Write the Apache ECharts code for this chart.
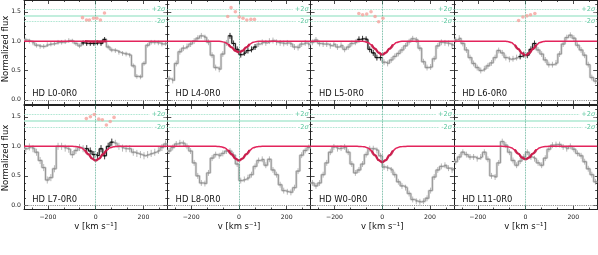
<!DOCTYPE html>
<html><head><meta charset="utf-8">
<script src="https://cdn.jsdelivr.net/npm/echarts@6/dist/echarts.min.js"></script>
<style>html,body{margin:0;padding:0;background:#fff}#c{width:598px;height:255px}</style>
</head><body><div id="c"></div>
<script>
// ---------- data ----------
const panelNames = ['HD L0-0R0','HD L4-0R0','HD L5-0R0','HD L6-0R0','HD L7-0R0','HD L8-0R0','HD W0-0R0','HD L11-0R0'];
const vEdges = [-300,-285,-270,-255,-240,-225,-210,-195,-180,-165,-150,-135,-120,-105,-90,-75,-60,-45,-30,-15,0,15,30,45,60,75,90,105,120,135,150,165,180,195,210,225,240,255,270,285,300];

const fluxL0 = [1.02,1.0,0.97,0.93,0.91,0.91,0.94,0.95,0.96,0.98,0.98,0.99,1.01,1.0,0.96,0.92,0.97,0.96,0.96,0.96,0.97,0.96,1.03,0.9,0.85,0.84,0.81,0.79,0.78,0.76,0.58,0.40,0.39,0.62,0.93,0.98,0.98,0.97,0.95,0.96];
const fluxL4 = [0.36,0.33,0.62,0.82,0.88,0.91,0.95,1.0,1.05,1.09,1.06,0.98,0.76,0.55,0.52,0.78,0.97,1.09,0.96,0.86,0.77,0.80,0.84,0.86,0.90,0.95,0.98,0.97,1.0,1.01,0.98,0.97,0.96,0.97,0.95,0.9,0.89,0.95,0.97,0.94];
const fluxL5 = [0.98,1.02,0.96,0.95,0.95,0.92,0.95,0.9,0.93,0.86,0.9,0.96,0.98,1.03,1.04,1.03,0.86,0.8,0.72,0.72,0.64,0.62,0.68,0.74,0.79,0.85,0.92,0.99,1.04,1.02,0.88,0.65,0.55,0.56,0.7,0.92,0.98,0.97,0.96,0.93];
const fluxL6 = [1.02,1.05,0.96,0.85,0.72,0.62,0.55,0.5,0.53,0.58,0.63,0.72,0.84,0.8,0.72,0.69,0.7,0.72,0.74,0.77,0.76,0.86,0.96,0.85,0.78,0.68,0.6,0.6,0.63,0.78,0.95,1.06,1.1,1.05,0.93,0.85,0.76,0.6,0.38,0.32];
const fluxL7 = [0.96,0.99,0.96,0.9,0.76,0.64,0.43,0.47,0.62,1.0,1.0,0.97,0.95,0.86,0.93,0.98,0.96,0.96,0.92,0.86,0.84,0.96,0.84,1.0,1.07,1.05,1.0,0.97,0.96,0.96,0.9,0.88,0.86,0.84,0.86,0.88,0.9,0.93,0.98,1.04];
const fluxL8 = [0.92,0.98,1.04,1.06,1.05,1.0,0.92,0.72,0.5,0.38,0.37,0.55,0.8,0.86,0.84,0.88,0.92,0.92,0.85,0.7,0.42,0.44,0.47,0.52,0.66,0.76,0.78,0.68,0.78,0.6,0.52,0.35,0.25,0.23,0.22,0.3,0.58,0.85,0.93,0.98];
const fluxW0 = [0.38,0.33,0.38,0.52,0.72,0.9,0.99,0.96,0.97,0.99,0.9,0.7,0.55,0.6,0.7,0.86,0.96,0.96,0.93,0.84,0.65,0.63,0.6,0.52,0.4,0.33,0.3,0.2,0.1,0.07,0.06,0.07,0.12,0.25,0.48,0.6,0.66,0.68,0.63,0.6];
const fluxL11 = [0.74,0.82,0.9,0.86,0.82,0.82,0.79,0.82,0.9,0.78,0.5,0.48,0.72,1.08,1.02,0.9,0.76,0.68,0.75,0.82,0.9,0.82,0.79,0.72,0.68,0.8,0.95,1.02,1.03,1.03,0.99,0.96,1.0,0.95,0.88,0.84,0.74,0.62,0.52,0.4];

const fluxErr = [0.04,0.05,0.05,0.05,0.06,0.05,0.05,0.05];
// fitted-bin index ranges (black), null if none
const fitBins = [[16,22],[17,24],[13,19],[18,22],[17,24],null,null,null];

// model curves
const modelV = [-300,-150,-105,-90,-75,-60,-45,-30,-15,0,15,30,45,60,75,90,105,150,300];
const modelL0 = [1,1,1,1,1,0.999,0.998,0.996,0.994,0.993,0.994,0.996,0.998,0.999,1,1,1,1,1];
const modelL4 = [1,1,1,0.999,0.995,0.981,0.948,0.893,0.835,0.81,0.835,0.893,0.948,0.981,0.995,0.999,1,1,1];
const modelL5 = [1,1,1,0.999,0.994,0.977,0.937,0.871,0.801,0.77,0.801,0.871,0.937,0.977,0.994,0.999,1,1,1];
const modelL6 = [1,1,1,0.999,0.993,0.976,0.934,0.865,0.792,0.76,0.792,0.865,0.934,0.976,0.993,0.999,1,1,1];
const modelL7 = [1,1,1,0.999,0.993,0.976,0.934,0.865,0.792,0.76,0.792,0.865,0.934,0.976,0.993,0.999,1,1,1];
const modelL8 = [1,1,1,0.999,0.993,0.976,0.934,0.865,0.792,0.76,0.792,0.865,0.934,0.976,0.993,0.999,1,1,1];
const modelW0 = [1,1,1,0.998,0.992,0.973,0.926,0.848,0.766,0.73,0.766,0.848,0.926,0.973,0.992,0.998,1,1,1];
const modelL11 = [1,1,1,0.999,0.994,0.978,0.94,0.876,0.809,0.78,0.809,0.876,0.94,0.978,0.994,0.999,1,1,1];

// significance dots
const dotV = [
  [-55,-38,-26,-9,5,20,37],
  [-47,-33,-15,1,17,33,50,65],
  [-98,-82,-65,-47,-30,-15,3],
  [-29,-11,6,21,39],
  [-39,-22,-6,13,28,45,61,77],
  [],[],[]
];
const dotF = [
  [1.40,1.36,1.36,1.39,1.39,1.36,1.48],
  [1.42,1.57,1.50,1.41,1.39,1.36,1.37,1.37],
  [1.47,1.45,1.46,1.50,1.42,1.33,1.39],
  [1.35,1.41,1.43,1.45,1.47],
  [1.47,1.50,1.54,1.46,1.45,1.36,1.42,1.49],
  [],[],[]
];
const meanLevel = 1.44, upperLevel = 1.55, lowerLevel = 1.33;

const xMajor = [-200,0,200];
const xMinor = [-266.67,-133.33,-66.67,66.67,133.33,266.67];
const yMajor = [0,0.5,1,1.5];
const yMinor = [0.125,0.25,0.375,0.625,0.75,0.875,1.125,1.25,1.375,1.625];

// ---------- layout ----------
const colLeft = [24,167.3,310.6,453.9], colW = 143.3;
const rowTop = [-0.5,105], rowH = 104.5;
const FONT = 'DejaVu Sans';
const AX = '#222';

const fluxes = [fluxL0,fluxL4,fluxL5,fluxL6,fluxL7,fluxL8,fluxW0,fluxL11];
const models = [modelL0,modelL4,modelL5,modelL6,modelL7,modelL8,modelW0,modelL11];

function minusFmt(v){ return v < 0 ? '\u2212' + Math.abs(v) : String(v); }

function mkX(p,pos,vals,len,line,label){
  return {type:'value',gridIndex:p,min:-300,max:300,position:pos,
    axisLine:{show:line,onZero:false,lineStyle:{color:AX,width:1}},
    axisTick:{show:true,inside:true,length:len,customValues:vals,lineStyle:{color:AX,width:0.8}},
    axisLabel:{show:label,customValues:xMajor,formatter:minusFmt,fontFamily:FONT,fontSize:6.2,color:'#222',margin:5},
    splitLine:{show:false},minorTick:{show:false}};
}
function mkY(p,pos,vals,len,line,label){
  return {type:'value',gridIndex:p,min:-0.07,max:1.7,position:pos,
    axisLine:{show:line,onZero:false,lineStyle:{color:AX,width:1}},
    axisTick:{show:true,inside:true,length:len,customValues:vals,lineStyle:{color:AX,width:0.8}},
    axisLabel:{show:label,customValues:yMajor,formatter:v=>v.toFixed(1),fontFamily:FONT,fontSize:6.2,color:'#222',margin:3},
    splitLine:{show:false},minorTick:{show:false}};
}

function errRender(color){
  return function(params, api){
    const x = api.value(0), y = api.value(1), e = api.value(2);
    const a = api.coord([x, y - e]), b = api.coord([x, y + e]), c = api.coord([x, y]);
    return {type:'group',children:[
      {type:'line',shape:{x1:a[0],y1:a[1],x2:b[0],y2:b[1]},style:{stroke:color,lineWidth:0.7}},
      {type:'circle',shape:{cx:c[0],cy:c[1],r:0.7},style:{fill:color}}
    ]};
  };
}

const grids=[], xAxes=[], yAxes=[], series=[], graphics=[];
for (let p=0;p<8;p++){
  const col=p%4, row=Math.floor(p/4);
  grids.push({left:colLeft[col],top:rowTop[row],width:colW,height:rowH});
  xAxes.push(mkX(p,'bottom',xMajor,4,true,row===1));
  xAxes.push(mkX(p,'bottom',xMinor,2,false,false));
  xAxes.push(mkX(p,'top',xMajor,4,true,false));
  xAxes.push(mkX(p,'top',xMinor,2,false,false));
  yAxes.push(mkY(p,'left',yMajor,4,true,col===0));
  yAxes.push(mkY(p,'left',yMinor,2,false,false));
  yAxes.push(mkY(p,'right',yMajor,4,true,false));
  yAxes.push(mkY(p,'right',yMinor,2,false,false));
  const xi=4*p, yi=4*p;
  const f = fluxes[p];
  const stepData = f.map((v,i)=>[vEdges[i],v]).concat([[vEdges[vEdges.length-1],f[f.length-1]]]);
  const errData = f.map((v,i)=>[(vEdges[i]+vEdges[i+1])/2,v,fluxErr[p]]);
  const lblRich = {a:{color:'#5cc79f',fontFamily:FONT,fontSize:6.6},b:{color:'#5cc79f',fontFamily:FONT,fontSize:6.6,fontStyle:'italic'}};
  series.push({type:'line',xAxisIndex:xi,yAxisIndex:yi,data:stepData,step:'end',symbol:'none',z:1,
    lineStyle:{color:'#d6d6d6',width:2.4},silent:true,
    markLine:{silent:true,symbol:['none','none'],animation:false,
      data:[
        {yAxis:meanLevel,lineStyle:{color:'#aee8d2',width:1.6,type:'solid'},label:{show:false}},
        {yAxis:upperLevel,lineStyle:{color:'#86d9bb',width:0.8,type:'dotted'},
          label:{show:true,position:'insideEnd',distance:1,formatter:'{a|+2}{b|σ}',rich:lblRich,backgroundColor:'#fff',padding:[0,1,0,2]}},
        {yAxis:lowerLevel,lineStyle:{color:'#86d9bb',width:0.8,type:'dotted'},
          label:{show:true,position:'insideEnd',distance:1,formatter:'{a|-2}{b|σ}',rich:lblRich,backgroundColor:'#fff',padding:[0,1,0,2]}},
        {yAxis:0,lineStyle:{color:'#8a8a8a',width:1.1,type:'dotted'},label:{show:false}},
        {xAxis:0,lineStyle:{color:'#3f9f80',width:0.8,type:'dotted'},label:{show:false}}
      ]}});
  series.push({type:'line',xAxisIndex:xi,yAxisIndex:yi,data:stepData,step:'end',symbol:'none',z:2,
    lineStyle:{color:'#8e8e8e',width:0.9},silent:true});
  series.push({type:'custom',xAxisIndex:xi,yAxisIndex:yi,data:errData,renderItem:errRender('#9a9a9a'),z:2,clip:true,silent:true});
  if (fitBins[p]){
    const [s,e] = fitBins[p];
    const bData = [];
    for (let i=s;i<=e;i++) bData.push([vEdges[i],f[i]]);
    bData.push([vEdges[e+1],f[e]]);
    series.push({type:'line',xAxisIndex:xi,yAxisIndex:yi,data:bData,step:'end',symbol:'none',z:3,
      lineStyle:{color:'#111',width:1},silent:true});
    series.push({type:'custom',xAxisIndex:xi,yAxisIndex:yi,data:errData.slice(s,e+1),renderItem:errRender('#111'),z:3,clip:true,silent:true});
  }
  const mData = modelV.map((v,i)=>[v,models[p][i]]);
  series.push({type:'line',xAxisIndex:xi,yAxisIndex:yi,data:mData,smooth:0.4,smoothMonotone:'x',symbol:'none',z:4,
    lineStyle:{color:'#e3245c',width:1.5},silent:true});
  const troughData = mData.filter(d=>Math.abs(d[0])<=45);
  series.push({type:'line',xAxisIndex:xi,yAxisIndex:yi,data:troughData,smooth:0.4,smoothMonotone:'x',symbol:'none',z:4,
    lineStyle:{color:'#c51a48',width:2.4,opacity:0.85},silent:true});
  if (dotV[p].length){
    series.push({type:'scatter',xAxisIndex:xi,yAxisIndex:yi,data:dotV[p].map((v,i)=>[v,dotF[p][i]]),
      symbolSize:3.6,itemStyle:{color:'#f5a29e'},z:5,silent:true});
  }
  graphics.push({type:'text',x:colLeft[col]+8.3,y:row===0?94:200.3,
    style:{text:panelNames[p],fontFamily:FONT,fontSize:8.4,fill:'#111',align:'left',verticalAlign:'middle'}});
  if (row===1){
    graphics.push({type:'text',x:colLeft[col]+colW/2,y:227,
      style:{text:'v [km s\u207B\u00B9]',fontFamily:FONT,fontSize:8.5,fill:'#111',align:'center',verticalAlign:'middle'}});
  }
}
graphics.push({type:'text',x:5.5,y:49,rotation:Math.PI/2,style:{text:'Normalized flux',fontFamily:FONT,fontSize:8.5,fill:'#111',align:'center',verticalAlign:'middle'}});
graphics.push({type:'text',x:5.5,y:158,rotation:Math.PI/2,style:{text:'Normalized flux',fontFamily:FONT,fontSize:8.5,fill:'#111',align:'center',verticalAlign:'middle'}});

const chart = echarts.init(document.getElementById('c'),null,{renderer:'canvas'});
chart.setOption({animation:false,grid:grids,xAxis:xAxes,yAxis:yAxes,series:series,graphic:graphics});
</script>
</body></html>
